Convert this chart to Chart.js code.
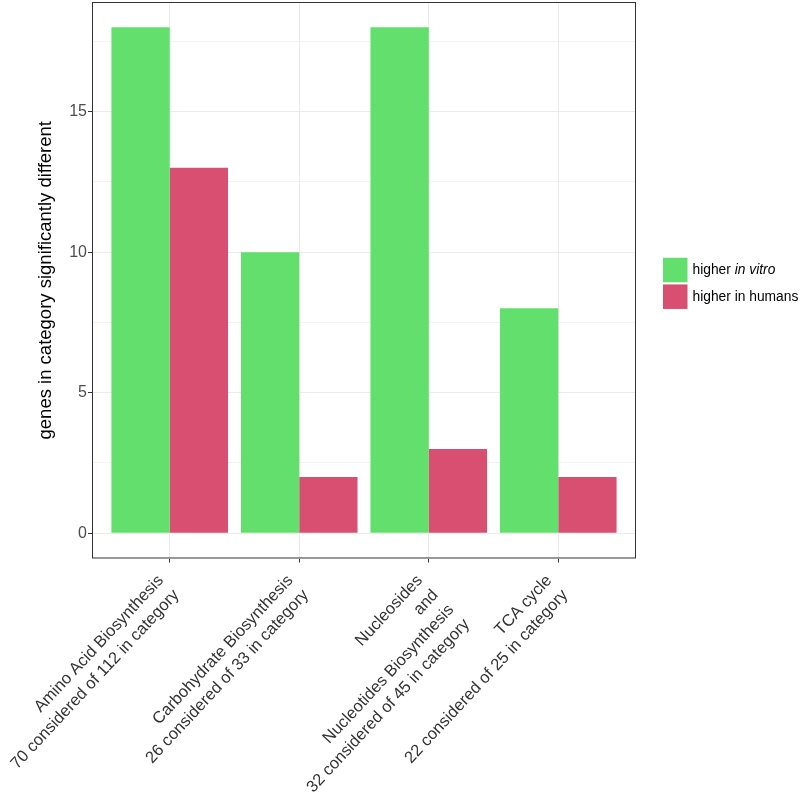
<!DOCTYPE html>
<html>
<head>
<meta charset="utf-8">
<script src="https://cdn.jsdelivr.net/npm/chart.js@4"></script>
<style>
  html, body { margin: 0; padding: 0; background: #ffffff; }
  #wrap { width: 802px; height: 800px; }
</style>
</head>
<body>
<div id="wrap"><canvas id="barChart" width="802" height="800"></canvas></div>
<script>
// data
const categories = [
    ['Amino Acid Biosynthesis', '70 considered of 112 in category'],
    ['Carbohydrate Biosynthesis', '26 considered of 33 in category'],
    ['Nucleosides', 'and', 'Nucleotides Biosynthesis', '32 considered of 45 in category'],
    ['TCA cycle', '22 considered of 25 in category']
];
const higherInVitro = [18, 10, 18, 8];
const higherInHumans = [13, 2, 3, 2];
const yTicks = [0, 2.5, 5, 7.5, 10, 12.5, 15, 17.5];   // minor ones have no label
const legendLabels = [
    [['higher ', false], ['in vitro', true]],
    [['higher in humans', false]]
];

const green = '#62df6c';
const red = '#d94f71';
const fontName = '"Liberation Sans", Arial, sans-serif';

function toPoints(values) {
    return values.map((v, i) => ({ x: i + 1, y: v }));
}

// ggplot-like border round the panel + legend on the right
const panelAndLegend = {
    id: 'panelAndLegend',
    afterDatasetsDraw(chart) {
        const ctx = chart.ctx;
        const a = chart.chartArea;
        ctx.save();
        ctx.strokeStyle = '#333333';
        ctx.lineWidth = 1;
        ctx.strokeRect(a.left + 0.5, a.top + 0.5, a.right - a.left - 1, a.bottom - a.top - 1);

        const colors = [green, red];
        const keyX = a.right + 27;
        const keySize = 24.5;
        const pitch = 26.7;
        let keyY = (a.top + a.bottom) / 2 - 22.5;
        ctx.textBaseline = 'middle';
        legendLabels.forEach((parts, i) => {
            ctx.fillStyle = colors[i];
            ctx.fillRect(keyX, keyY + i * pitch, keySize, keySize);
            let tx = keyX + keySize + 5;
            parts.forEach(p => {
                ctx.font = (p[1] ? 'italic ' : '') + '13.8px ' + fontName;
                ctx.fillStyle = '#000000';
                ctx.fillText(p[0], tx, keyY + i * pitch + keySize / 2);
                tx += ctx.measureText(p[0]).width;
            });
        });
        ctx.restore();
    }
};

const ctx = document.getElementById('barChart').getContext('2d');
const barChart = new Chart(ctx, {
    type: 'bar',
    data: {
        datasets: [
            { label: 'higher in vitro', data: toPoints(higherInVitro), backgroundColor: green, borderWidth: 0 },
            { label: 'higher in humans', data: toPoints(higherInHumans), backgroundColor: red, borderWidth: 0 }
        ]
    },
    options: {
        responsive: false,
        animation: false,
        events: [],
        categoryPercentage: 0.9,
        barPercentage: 1,
        layout: { autoPadding: false, padding: { left: 0, top: 2, right: 166, bottom: 0 } },
        plugins: {
            legend: { display: false },
            tooltip: { enabled: false }
        },
        scales: {
            x: {
                type: 'linear',
                min: 0.4,
                max: 4.6,
                offset: false,
                afterBuildTicks: s => { s.ticks = categories.map((c, i) => ({ value: i + 1 })); },
                afterFit: s => {
                    s.height = 241.5;
                    s.paddingLeft = 0;
                    s.paddingRight = 0;
                },
                grid: {
                    offset: false,
                    color: '#ebebeb',
                    lineWidth: 1,
                    tickColor: '#333333',
                    tickLength: 4,
                    tickWidth: 1
                },
                border: { display: false },
                ticks: {
                    autoSkip: false,
                    minRotation: 47,
                    maxRotation: 47,
                    padding: 8,
                    labelOffset: -9,
                    color: '#333333',
                    font: { family: fontName, size: 16.5, lineHeight: 1.3 },
                    callback: v => categories[v - 1]
                }
            },
            y: {
                min: -0.9,
                max: 18.9,
                afterBuildTicks: s => { s.ticks = yTicks.map(v => ({ value: v })); },
                afterFit: s => {
                    s.width = 92;
                    s.paddingTop = 0;
                    s.paddingBottom = 0;
                },
                grid: {
                    color: '#ebebeb',
                    lineWidth: c => (c.tick && c.tick.value % 5 === 0 ? 1 : 0.6),
                    tickColor: c => (c.tick && c.tick.value % 5 === 0 ? '#333333' : 'rgba(0,0,0,0)'),
                    tickLength: 4,
                    tickWidth: 1
                },
                border: { display: false },
                ticks: {
                    padding: 1,
                    color: '#4d4d4d',
                    font: { family: fontName, size: 16 },
                    callback: v => (v % 5 === 0 ? String(v) : '')
                },
                title: {
                    display: true,
                    text: 'genes in category significantly different',
                    color: '#000000',
                    font: { family: fontName, size: 18.5, lineHeight: 1.2 },
                    padding: { top: 35, bottom: 0 }
                }
            }
        }
    },
    plugins: [panelAndLegend]
});
</script>
</body>
</html>
